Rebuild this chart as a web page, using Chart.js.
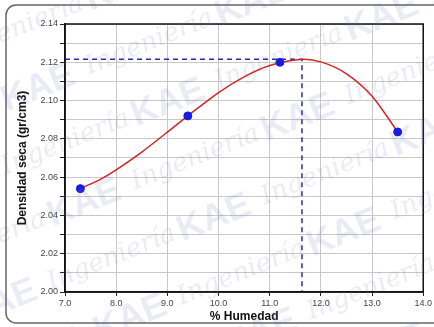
<!DOCTYPE html>
<html>
<head>
<meta charset="utf-8">
<script src="https://cdn.jsdelivr.net/npm/chart.js@4"></script>
<style>
  html, body { margin: 0; padding: 0; background: #fff; }
  #wrap { width: 434px; height: 327px; }
</style>
</head>
<body>
<div id="wrap"><canvas id="grafico" width="434" height="327"></canvas></div>
<script>
// puntos del ensayo Proctor
const humedad = [7.3, 9.4, 11.2, 13.5];
const densidad = [2.054, 2.092, 2.120, 2.0836];

// curva de compactacion
const curvaHumedad = [7.3, 7.7, 8.0, 8.5, 9.0, 9.4, 10.0, 10.5, 11.0, 11.6, 12.0, 12.5, 13.0, 13.5];
const curvaDensidad = [2.054, 2.059, 2.0638, 2.0731, 2.0835, 2.092, 2.1042, 2.1124, 2.1183, 2.1215, 2.1202, 2.1140, 2.1023, 2.0836];

// optimo: humedad optima y densidad seca maxima
const humedadOptima = 11.63;
const densidadMaxima = 2.1216;

const ejeX = { min: 7.0, max: 14.0, paso: 1.0 };
const ejeY = { min: 2.00, max: 2.14, paso: 0.01 };

const toXY = (xs, ys) => xs.map((x, i) => ({ x: x, y: ys[i] }));

const marco = {
  id: 'marco',
  beforeDraw(chart) {
    const ctx = chart.ctx;
    ctx.save();
    ctx.fillStyle = '#ffffff';
    ctx.fillRect(0, 0, chart.width, chart.height);
    ctx.strokeStyle = '#666';
    ctx.lineWidth = 1.5;
    ctx.beginPath();
    ctx.roundRect(6, 5, chart.width + 20, chart.height - 9, 10);
    ctx.stroke();
    ctx.restore();
  },
  afterDraw(chart) {
    const a = chart.chartArea;
    const ctx = chart.ctx;
    ctx.save();
    ctx.strokeStyle = '#111';
    ctx.lineWidth = 1.5;
    ctx.strokeRect(a.left, a.top, a.right - a.left, a.bottom - a.top);
    // marca de agua
    ctx.fillStyle = 'rgba(110, 110, 190, 0.14)';
    ctx.rotate(-0.38);
    for (let fila = -2; fila < 8; fila++) {
      for (let col = -1; col < 4; col++) {
        const x = col * 230 + (fila % 2) * 115 - 60;
        const y = fila * 62 + 40;
        ctx.font = 'italic 26px "DejaVu Serif"';
        ctx.fillText('Ingeniería', x, y);
        ctx.font = 'bold 36px "Liberation Sans"';
        ctx.fillText('KAE', x + 140, y + 4);
      }
    }
    ctx.restore();
  }
};

const ctx = document.getElementById('grafico').getContext('2d');
new Chart(ctx, {
  type: 'scatter',
  data: {
    datasets: [
      {
        label: 'Optimo',
        data: [
          { x: ejeX.min, y: densidadMaxima },
          { x: humedadOptima, y: densidadMaxima },
          { x: humedadOptima, y: ejeY.min }
        ],
        showLine: true,
        borderColor: '#2a2aa8',
        borderWidth: 1.5,
        borderDash: [5, 4],
        pointRadius: 0,
        tension: 0,
        order: 3
      },
      {
        label: 'Curva',
        data: toXY(curvaHumedad, curvaDensidad),
        showLine: true,
        borderColor: '#d42424',
        borderWidth: 1.5,
        pointRadius: 0,
        tension: 0.3,
        order: 2
      },
      {
        label: 'Ensayo',
        data: toXY(humedad, densidad),
        showLine: false,
        backgroundColor: '#1a1ae0',
        borderColor: '#1a1ae0',
        pointRadius: 4,
        order: 1
      }
    ]
  },
  options: {
    responsive: false,
    animation: false,
    layout: { padding: { left: 11, top: 24, right: 10, bottom: 0 } },
    plugins: { legend: { display: false }, tooltip: { enabled: false } },
    scales: {
      x: {
        type: 'linear',
        min: ejeX.min,
        max: ejeX.max,
        afterFit(s) { s.height = 35; },
        grid: { color: '#c8c8c8', tickColor: '#222', tickLength: 4, lineWidth: 1 },
        border: { color: '#111', width: 1.5 },
        ticks: {
          stepSize: ejeX.paso,
          padding: 2,
          color: '#444',
          font: { family: '"Liberation Sans", Arial', size: 9 },
          callback: v => v.toFixed(1)
        },
        title: {
          display: true,
          text: '% Humedad',
          color: '#111',
          padding: { top: 2, bottom: 3 },
          font: { family: '"Liberation Sans", Arial', size: 12, weight: 'bold' }
        }
      },
      y: {
        type: 'linear',
        min: ejeY.min,
        max: ejeY.max,
        afterFit(s) { s.width = 54; },
        grid: { color: '#c8c8c8', tickColor: '#222', tickLength: 5, lineWidth: 1 },
        border: { color: '#111', width: 1.5 },
        ticks: {
          stepSize: ejeY.paso,
          padding: 2,
          color: '#444',
          font: { family: '"Liberation Sans", Arial', size: 9 },
          callback: v => (Math.round(v * 100) % 2 === 0 ? v.toFixed(2) : '')
        },
        title: {
          display: true,
          text: 'Densidad seca (gr/cm3)',
          color: '#111',
          padding: { top: 4, bottom: 2 },
          font: { family: '"Liberation Sans", Arial', size: 12, weight: 'bold' }
        }
      }
    }
  },
  plugins: [marco]
});
</script>
</body>
</html>
